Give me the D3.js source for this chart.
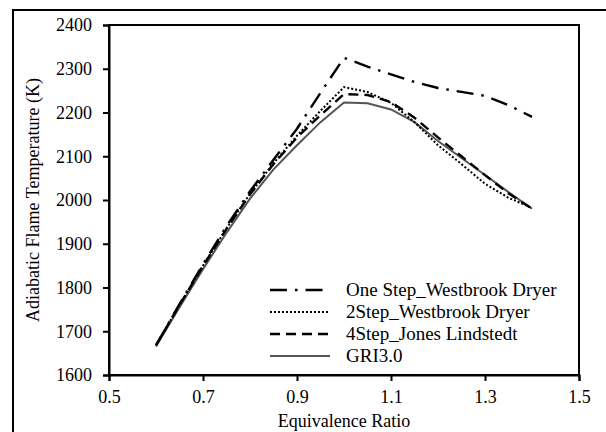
<!DOCTYPE html>
<html>
<head>
<meta charset="utf-8">
<script src="https://cdn.jsdelivr.net/npm/d3@7"></script>
<style>
  body { margin: 0; background: #fff; }
  #chart text { font-family: "Times New Roman", "Liberation Serif", Tinos, serif !important; }
</style>
</head>
<body>
<svg id="chart" width="606" height="432"></svg>
<script>
// equivalence ratio points
let phi = [0.6, 0.65, 0.7, 0.75, 0.8, 0.85, 0.9, 0.95, 1.0, 1.05, 1.1, 1.15, 1.2, 1.25, 1.3, 1.35, 1.4];

let oneStep = [1668, 1762, 1853, 1940, 2020, 2092, 2163, 2245, 2325, 2305, 2287, 2270, 2256, 2247, 2238, 2217, 2190];
let twoStep = [1668, 1760, 1850, 1935, 2014, 2084, 2147, 2204, 2258, 2247, 2222, 2178, 2125, 2082, 2037, 2005, 1982];
let fourStep = [1668, 1760, 1849, 1934, 2013, 2082, 2143, 2194, 2242, 2240, 2224, 2188, 2143, 2100, 2057, 2015, 1980];
let gri = [1665, 1755, 1842, 1925, 2003, 2070, 2125, 2178, 2223, 2221, 2207, 2178, 2135, 2096, 2057, 2018, 1980];

let xTicks = [0.5, 0.7, 0.9, 1.1, 1.3, 1.5];
let yTicks = [1600, 1700, 1800, 1900, 2000, 2100, 2200, 2300, 2400];

let seriesNames = ["One Step_Westbrook Dryer", "2Step_Westbrook Dryer", "4Step_Jones Lindstedt", "GRI3.0"];

let styles = [
  { color: "#000", width: 2.4, dash: "17,8,2.5,8" },
  { color: "#000", width: 2, dash: "2,2" },
  { color: "#000", width: 2.4, dash: "10,6" },
  { color: "#555", width: 2, dash: null }
];

let series = [oneStep, twoStep, fourStep, gri];

let fontFam = "Times New Roman, Liberation Serif, Tinos, serif";
let svg = d3.select("#chart");
let mLeft = 109, mRight = 579, mTop = 25, mBottom = 375;

// outer figure frame (runs off the right / bottom edges)
svg.append("rect")
  .attr("x", 13).attr("y", 10)
  .attr("width", 640).attr("height", 460)
  .attr("fill", "none").attr("stroke", "#000").attr("stroke-width", 2);

let x = d3.scaleLinear().domain([0.5, 1.5]).range([mLeft, mRight]);
let y = d3.scaleLinear().domain([1600, 2400]).range([mBottom, mTop]);

// plot box
svg.append("rect")
  .attr("x", mLeft).attr("y", mTop)
  .attr("width", mRight - mLeft).attr("height", mBottom - mTop)
  .attr("fill", "none").attr("stroke", "#000").attr("stroke-width", 2);

let xAxis = svg.append("g")
  .attr("transform", `translate(0,${mBottom})`)
  .call(d3.axisBottom(x).tickValues(xTicks).tickFormat(d3.format(".1f")).tickSize(6).tickPadding(9));
let yAxis = svg.append("g")
  .attr("transform", `translate(${mLeft},0)`)
  .call(d3.axisLeft(y).tickValues(yTicks).tickFormat(d3.format("d")).tickSize(6).tickPadding(11));

[xAxis, yAxis].forEach(a => {
  a.attr("font-family", fontFam).attr("font-size", 18);
  a.select(".domain").attr("stroke-width", 2);
  a.selectAll(".tick line").attr("stroke-width", 2);
  a.selectAll("text").attr("fill", "#000");
});

svg.append("text")
  .attr("x", (mLeft + mRight) / 2).attr("y", 427)
  .attr("text-anchor", "middle")
  .attr("font-family", fontFam).attr("font-size", 18)
  .text("Equivalence Ratio");

svg.append("text")
  .attr("transform", `translate(33,${(mTop + mBottom) / 2}) rotate(-90)`)
  .attr("text-anchor", "middle").attr("dy", "0.35em")
  .attr("font-family", fontFam).attr("font-size", 18)
  .text("Adiabatic Flame Temperature (K)");

let line = d3.line()
  .x((d, i) => x(phi[i]))
  .y(d => y(d));

// draw GRI first so dashed lines sit on top
[3, 2, 1, 0].forEach(k => {
  svg.append("path")
    .datum(series[k])
    .attr("d", line)
    .attr("fill", "none")
    .attr("stroke", styles[k].color)
    .attr("stroke-width", styles[k].width)
    .attr("stroke-dasharray", styles[k].dash);
});

// legend
let lg = svg.append("g");
seriesNames.forEach((name, i) => {
  let ly = 290 + i * 22;
  lg.append("line")
    .attr("x1", 270).attr("x2", 330)
    .attr("y1", ly).attr("y2", ly)
    .attr("stroke", styles[i].color)
    .attr("stroke-width", styles[i].width)
    .attr("stroke-dasharray", styles[i].dash);
  lg.append("text")
    .attr("x", 346).attr("y", ly).attr("dy", "0.33em")
    .attr("font-family", fontFam).attr("font-size", 19)
    .text(name);
});
</script>
</body>
</html>
